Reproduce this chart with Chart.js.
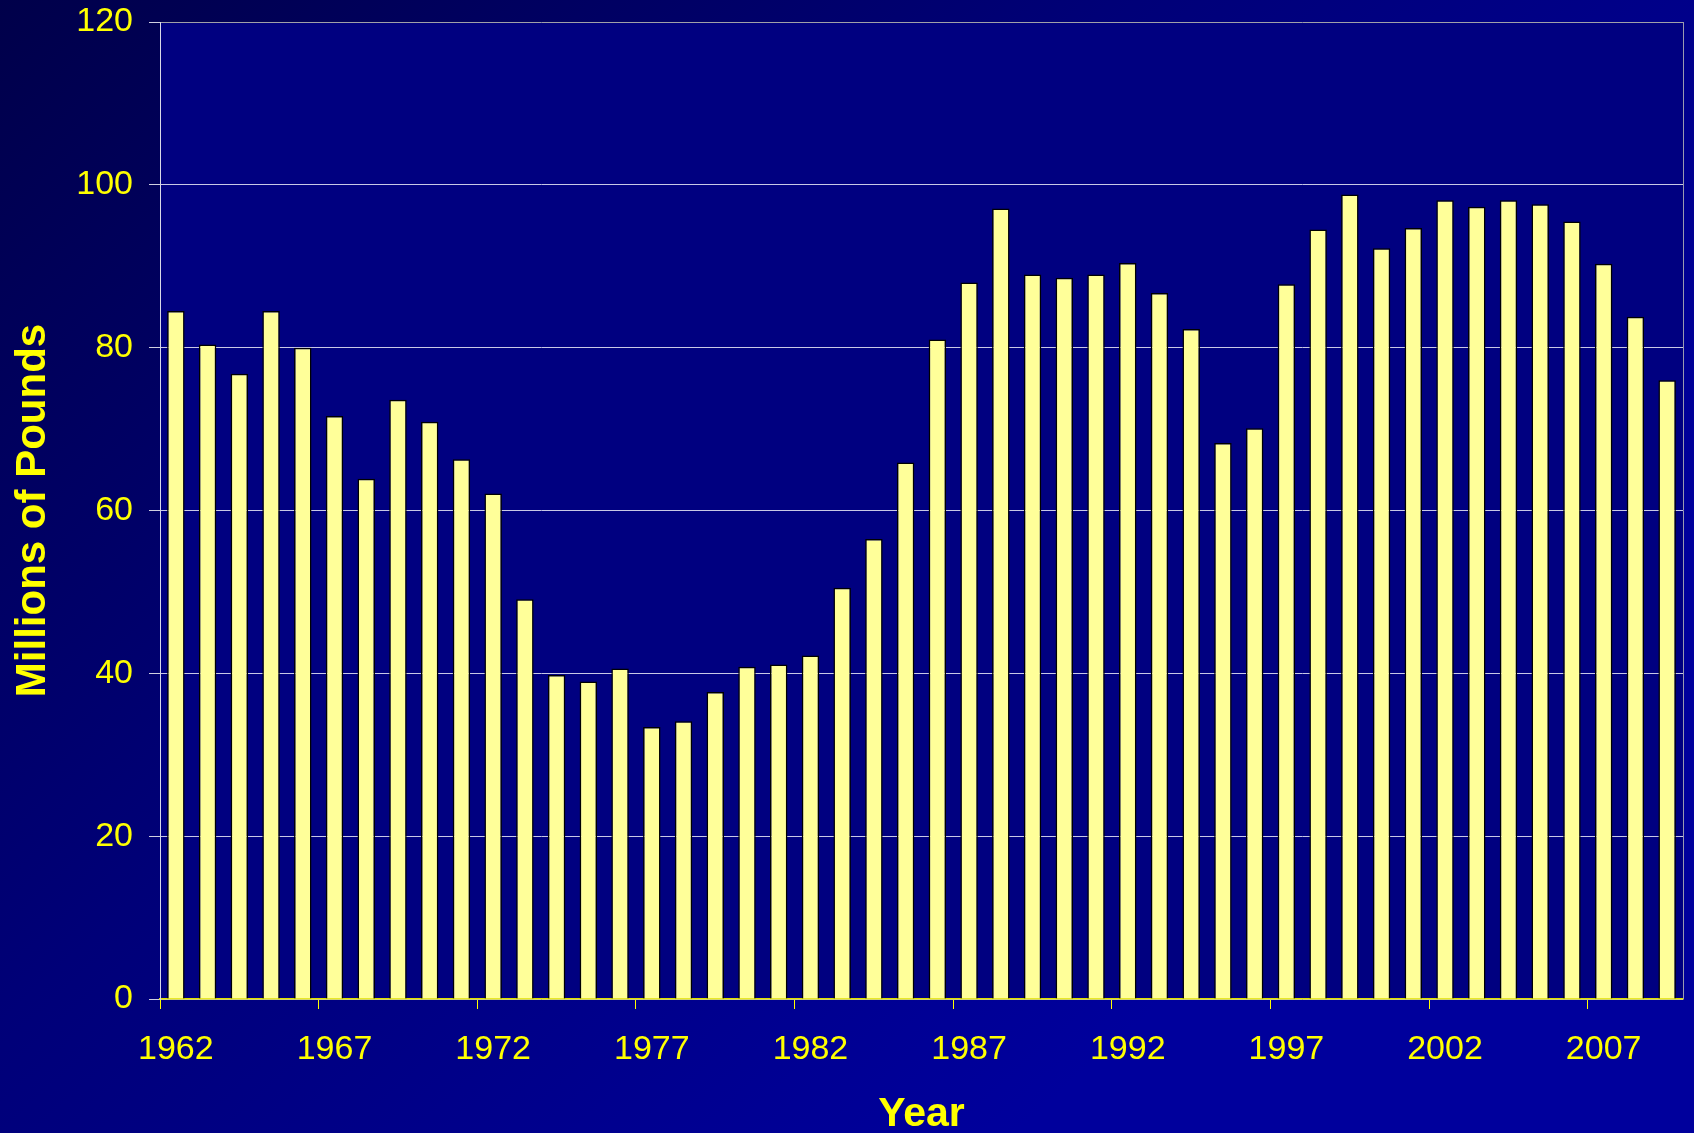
<!DOCTYPE html>
<html>
<head>
<meta charset="utf-8">
<script src="https://cdn.jsdelivr.net/npm/chart.js@4"></script>
<style>
  html, body { margin: 0; padding: 0; background: #000070; }
  #wrap { width: 1694px; height: 1133px; }
</style>
</head>
<body>
<div id="wrap"><canvas id="chart" width="1694" height="1133"></canvas></div>
<script>
// years 1962 - 2009
const years = [
  '1962','1963','1964','1965','1966','1967','1968','1969','1970','1971',
  '1972','1973','1974','1975','1976','1977','1978','1979','1980','1981',
  '1982','1983','1984','1985','1986','1987','1988','1989','1990','1991',
  '1992','1993','1994','1995','1996','1997','1998','1999','2000','2001',
  '2002','2003','2004','2005','2006','2007','2008','2009'
];
// millions of pounds
const pounds = [
  84.5, 80.4, 76.8, 84.5, 80.0, 71.6, 63.9, 73.6, 70.9, 66.3,
  62.1, 49.1, 39.8, 39.0, 40.6, 33.4, 34.1, 37.7, 40.8, 41.1,
  42.2, 50.5, 56.5, 65.9, 81.0, 88.0, 97.1, 89.0, 88.6, 89.0,
  90.4, 86.7, 82.3, 68.3, 70.1, 87.8, 94.5, 98.8, 92.2, 94.7,
  98.1, 97.3, 98.1, 97.6, 95.5, 90.3, 83.8, 76.0
];
const yTicks = [0, 20, 40, 60, 80, 100, 120];

const yellow = '#FFFF00';

// dark blue slide background + navy plot area
const bgPlugin = {
  id: 'bg',
  beforeDraw(chart) {
    const { ctx, width, height, chartArea: a } = chart;
    ctx.save();
    const g = ctx.createLinearGradient(0, 0, width * 0.6, height);
    g.addColorStop(0, '#00004a');
    g.addColorStop(0.5, '#000078');
    g.addColorStop(1, '#00009c');
    ctx.fillStyle = g;
    ctx.fillRect(0, 0, width, height);
    ctx.fillStyle = '#000080';
    ctx.fillRect(a.left, a.top, a.right - a.left, a.bottom - a.top);
    ctx.restore();
  },
  afterDatasetsDraw(chart) {
    const { ctx, chartArea: a } = chart;
    ctx.save();
    ctx.strokeStyle = '#9a9ab0';
    ctx.lineWidth = 1;
    ctx.beginPath();
    ctx.moveTo(a.right + 0.5, a.top);
    ctx.lineTo(a.right + 0.5, a.bottom);
    ctx.stroke();
    ctx.restore();
  }
};

new Chart(document.getElementById('chart'), {
  type: 'bar',
  data: {
    labels: years,
    datasets: [{
      data: pounds,
      backgroundColor: '#FFFF99',
      borderColor: '#000000',
      borderWidth: 1.5,
      barPercentage: 0.55,
      categoryPercentage: 1.0
    }]
  },
  options: {
    responsive: false,
    animation: false,
    layout: { padding: { top: 22, right: 11, left: 0, bottom: 0 } },
    plugins: { legend: { display: false }, tooltip: { enabled: false } },
    scales: {
      x: {
        offset: true,
        afterFit(s) { s.height = 134; s.paddingLeft = 0; s.paddingRight = 0; },
        grid: {
          offset: true,
          drawOnChartArea: false,
          tickLength: 10,
          tickColor: (c) => (c.index % 5 === 0 ? yellow : 'transparent')
        },
        border: { color: '#e0e000', width: 1.5 },
        ticks: {
          autoSkip: false,
          maxRotation: 0,
          color: yellow,
          padding: 20,
          font: { family: 'Liberation Sans, Arial, sans-serif', size: 34 },
          callback: (v, i) => (i % 5 === 0 ? years[i] : '')
        },
        title: {
          display: true,
          text: 'Year',
          color: yellow,
          font: { family: 'Liberation Sans, Arial, sans-serif', size: 41, weight: 'bold', lineHeight: 0.9 },
          padding: { top: 0, bottom: 0 }
        }
      },
      y: {
        min: 0,
        max: 120,
        afterFit(s) { s.width = 160; s.paddingTop = 0; s.paddingBottom = 0; },
        afterBuildTicks(s) { s.ticks = yTicks.map(v => ({ value: v })); },
        grid: {
          color: (c) => (c.tick && c.tick.value === 120 ? '#a0a0a8' : '#c8c8e6'),
          lineWidth: 1,
          tickLength: 11,
          tickColor: '#d0d0e0'
        },
        border: { color: '#d8d8e8', width: 1 },
        ticks: {
          color: yellow,
          padding: 16,
          font: { family: 'Liberation Sans, Arial, sans-serif', size: 34 }
        },
        title: {
          display: true,
          text: 'Millions of Pounds',
          color: yellow,
          font: { family: 'Liberation Sans, Arial, sans-serif', size: 42, weight: 'bold', lineHeight: 1 },
          padding: { top: 12, bottom: 0 }
        }
      }
    }
  },
  plugins: [bgPlugin]
});
</script>
</body>
</html>
